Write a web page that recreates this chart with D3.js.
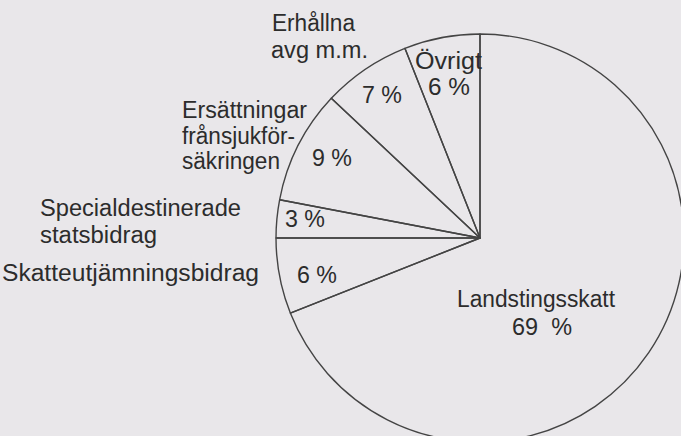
<!DOCTYPE html>
<html>
<head>
<meta charset="utf-8">
<script src="https://cdn.jsdelivr.net/npm/d3@7"></script>
<style>
  html, body { margin: 0; padding: 0; background: #e9e7ea; }
  svg { display: block; }
  text { font-family: "Liberation Sans", Arial, Helvetica, sans-serif; fill: #2c2c2c; white-space: pre; }
</style>
</head>
<body>
<svg id="chart" width="681" height="436"></svg>
<script>
// ---- Data (clockwise from 12 o'clock) ----
const categories = [
  "Landstingsskatt",
  "Skatteutjämningsbidrag",
  "Specialdestinerade statsbidrag",
  "Ersättningar från sjukförsäkringen",
  "Erhållna avg m.m.",
  "Övrigt"
];
const values = [69, 6, 3, 9, 7, 6];
const valueLabels = ["69  %", "6 %", "3 %", "9 %", "7 %", "6 %"];
const nameLines = [
  ["Landstingsskatt"],
  ["Skatteutjämningsbidrag"],
  ["Specialdestinerade", "statsbidrag"],
  ["Ersättningar", "frånsjukför-", "säkringen"],
  ["Erhållna", "avg m.m."],
  ["Övrigt"]
];

// ---- Layout (positions / sizes only) ----
const W = 681, H = 436;
const cx = 480, cy = 238, R = 204;
const fontSize = 23.5;
const nameLayout = [
  [{x: 457, y: 307, w: 158}],
  [{x: 2, y: 281, w: 257}],
  [{x: 40, y: 216, w: 201}, {x: 40, y: 243, w: 117}],
  [{x: 182, y: 118, w: 125}, {x: 182, y: 144, w: 113}, {x: 182, y: 169, w: 98}],
  [{x: 272, y: 31, w: 83}, {x: 271, y: 58, w: 97}],
  [{x: 415, y: 69, w: 67}]
];
const valueLayout = [
  {x: 512, y: 335, w: 60},
  {x: 297, y: 283, w: 40},
  {x: 285, y: 227, w: 40},
  {x: 312, y: 166, w: 40},
  {x: 362, y: 103, w: 40},
  {x: 428, y: 95, w: 42}
];

const svg = d3.select("#chart");

const pie = d3.pie().sort(null).value(d => d).startAngle(0).endAngle(2 * Math.PI);
const arc = d3.arc().innerRadius(0).outerRadius(R);

const g = svg.append("g").attr("transform", `translate(${cx},${cy})`);
g.selectAll("path.slice")
  .data(pie(values))
  .join("path")
  .attr("class", "slice")
  .attr("d", arc)
  .attr("fill", "none")
  .attr("stroke", "#444")
  .attr("stroke-width", 1.4)
  .attr("stroke-linejoin", "round");

// Category names
categories.forEach((c, i) => {
  nameLines[i].forEach((line, j) => {
    const p = nameLayout[i][j];
    svg.append("text")
      .attr("x", p.x)
      .attr("y", p.y)
      .attr("font-size", fontSize)
      .attr("textLength", p.w)
      .attr("lengthAdjust", "spacingAndGlyphs")
      .text(line);
  });
});

// Percent labels
valueLabels.forEach((t, i) => {
  const p = valueLayout[i];
  svg.append("text")
    .attr("x", p.x)
    .attr("y", p.y)
    .attr("font-size", fontSize)
    .attr("textLength", p.w)
    .attr("lengthAdjust", "spacingAndGlyphs")
    .text(t);
});
</script>
</body>
</html>
